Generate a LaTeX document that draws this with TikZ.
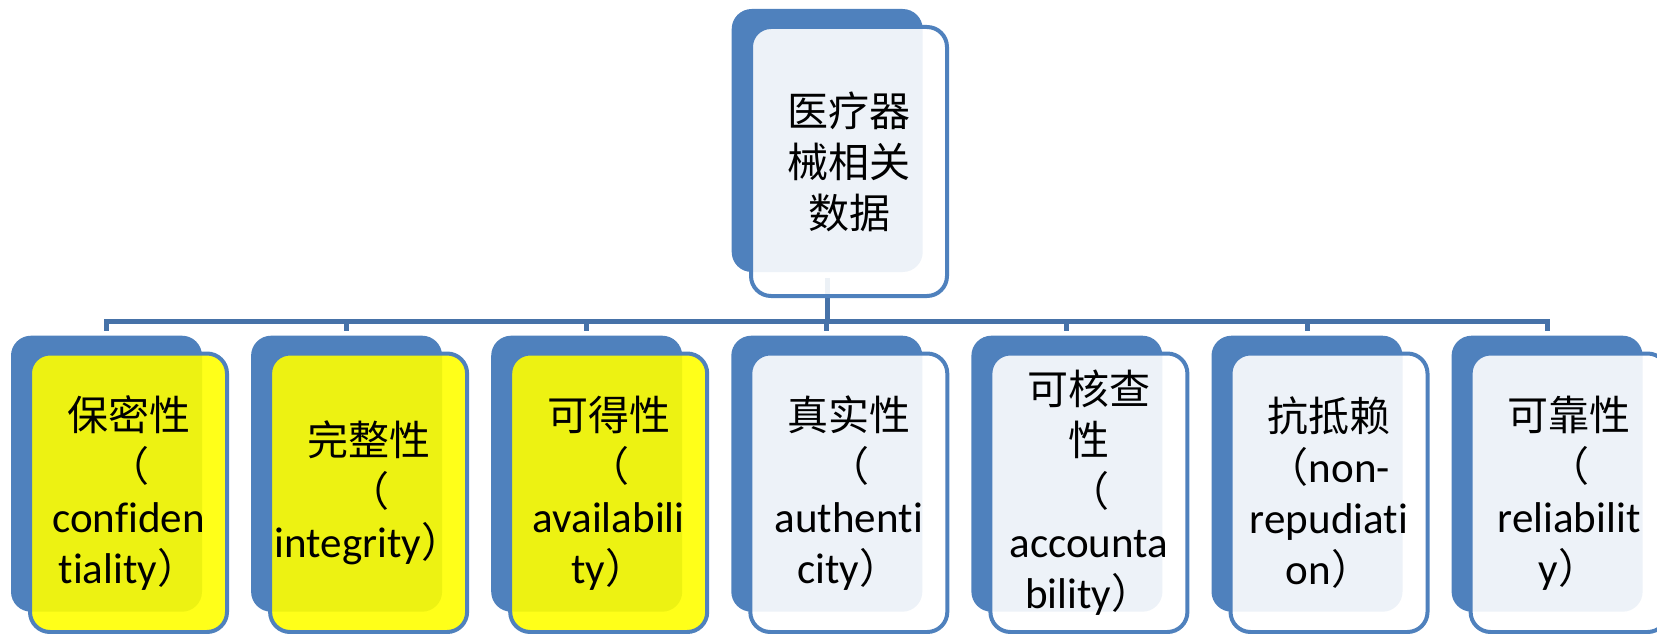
\documentclass[tikz,border=0pt]{standalone}
\usepackage{fontspec}
\setmainfont{Carlito}[Scale=1.05, Ligatures=NoCommon]
\newfontfamily\cjk{Noto Sans CJK SC}
\definecolor{accent}{HTML}{4F81BD}
\definecolor{connc}{HTML}{4672A8}
\definecolor{hilite}{HTML}{FFFF00}
\begin{document}
\begin{tikzpicture}[x=1pt,y=-1pt,
  back/.style={fill=accent, rounded corners=20pt, minimum width=191pt, inner sep=0pt},
  front/.style={draw=accent, line width=4pt, rounded corners=20pt, fill=white, fill opacity=0.9, minimum width=197pt, inner sep=0pt},
  hl/.style={fill=hilite},
  plain/.style={},
  txt/.style={align=center, font=\fontsize{41}{51}\selectfont, inner sep=0pt, text=black},
  conn/.style={draw=connc, line width=5pt}]
\useasboundingbox (0,0) rectangle (1657,634);
% back shapes
\node[back, minimum height=263pt] (tb) at (827.2,140.5) {};
\foreach \i in {0,...,6} {
  \node[back, minimum height=276pt] (b\i) at ({106.5+240.1*\i},473.7) {};
}
% connectors
\coordinate (j) at (827.2,321.5);
\draw[conn] ([yshift=-6pt]tb.south) -- (j);
\draw[conn] ([yshift=5pt]b0.north) -- (b0.north |- j) -- (b6.north |- j) -- ([yshift=5pt]b6.north);
\foreach \i in {1,...,5} {
  \draw[conn] (b\i.north |- j) -- ([yshift=5pt]b\i.north);
}
% front shapes
\node[front, minimum width=196pt, minimum height=269pt] (tf) at (849,161.5) {};
\foreach \i/\s in {0/hl,1/hl,2/hl,3/plain,4/plain,5/plain,6/plain} {
  \node[front, \s, minimum height=278.5pt] (f\i) at ({128.5+240.1*\i},492.75) {};
}
% texts
\node[txt] (tt) at (tf) {{\cjk 医疗器}\\{\cjk 械相关}\\{\cjk 数据}};
\node[txt] (t0) at (f0) {{\cjk 保密性}\\{\cjk （}\\confiden\\tiality{\cjk ）}};
\node[txt] (t1) at (f1) {{\cjk 完整性}\\{\cjk （}\\integrity{\cjk ）}};
\node[txt] (t2) at (f2) {{\cjk 可得性}\\{\cjk （}\\availabili\\ty{\cjk ）}};
\node[txt] (t3) at (f3) {{\cjk 真实性}\\{\cjk （}\\authenti\\city{\cjk ）}};
\node[txt] (t4) at (f4) {{\cjk 可核查}\\{\cjk 性}\\{\cjk （}\\accounta\\bility{\cjk ）}};
\node[txt] (t5) at (f5) {{\cjk 抗抵赖}\\{\cjk （}non-\\repudiati\\on{\cjk ）}};
\node[txt] (t6) at (f6) {{\cjk 可靠性}\\{\cjk （}\\reliabilit\\y{\cjk ）}};
\end{tikzpicture}
\end{document}
